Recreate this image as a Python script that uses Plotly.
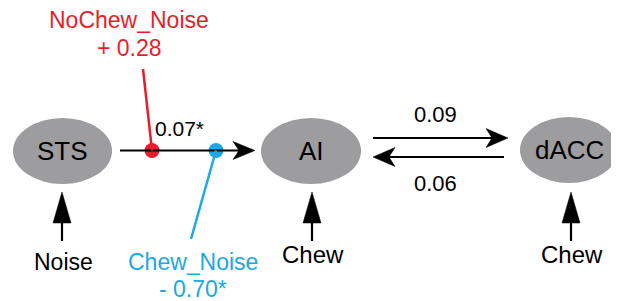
import math
import plotly.graph_objects as go

# ---- data ----
nodes = ["STS", "AI", "dACC"]
path_labels = ["0.07*", "0.09", "0.06"]          # STS->AI, AI->dACC, dACC->AI
modulators = ["NoChew_Noise", "Chew_Noise"]
modulator_values = ["+ 0.28", "- 0.70*"]
inputs = ["Noise", "Chew", "Chew"]

# ---- layout geometry (pixel space of the 619x301 canvas) ----
node_x = [62.5, 311, 569]
node_y = [151, 151, 150]
node_rx = [49.5, 50, 49]
node_ry = [33, 33, 33]

W, H = 619, 301
OFF = 8  # page body margin
FONT = "Liberation Sans, Arial, Helvetica, sans-serif"
GRAY = "#9d9d9f"
RED = "#e61e2b"
BLUE = "#1ca8e6"

fig = go.Figure()
shapes = []
annotations = []


def arrow(x0, y0, x1, y1, L, Wd, notch, color="black", lw=2.2):
    d = math.hypot(x1 - x0, y1 - y0)
    ux, uy = (x1 - x0) / d, (y1 - y0) / d
    px, py = -uy, ux
    bx, by = x1 - (L - notch) * ux, y1 - (L - notch) * uy
    shapes.append(dict(type="line", x0=x0, y0=y0, x1=bx, y1=by,
                       line=dict(color=color, width=lw), layer="above"))
    p1 = (x1 - L * ux + Wd * px, y1 - L * uy + Wd * py)
    p2 = (x1 - L * ux - Wd * px, y1 - L * uy - Wd * py)
    path = f"M{x1},{y1} L{p1[0]},{p1[1]} L{bx},{by} L{p2[0]},{p2[1]} Z"
    shapes.append(dict(type="path", path=path, fillcolor=color,
                       line=dict(color=color, width=0.5), layer="above"))


def text(x, y, s, size, color="black"):
    annotations.append(dict(x=x, y=y, text=s, showarrow=False,
                            font=dict(family=FONT, size=size, color=color),
                            xanchor="center", yanchor="middle", borderpad=0))


# nodes
for name, cx, cy, rx, ry in zip(nodes, node_x, node_y, node_rx, node_ry):
    shapes.append(dict(type="circle", x0=cx - rx, x1=cx + rx, y0=cy - ry, y1=cy + ry,
                       fillcolor=GRAY, line=dict(width=0), layer="below"))
    text(cx, cy, name, 26)

# STS -> AI
arrow(120, 150.5, 255, 150.5, 22, 9, 6)
text(179, 128, path_labels[0], 21)

# AI <-> dACC
arrow(373, 138, 508, 138, 22, 9.5, 6)
text(435, 114, path_labels[1], 22)
arrow(504, 157, 373, 157, 22, 9.5, 6)
text(435, 183, path_labels[2], 22)

# modulator lines and dots
mod_dot_x = [152, 216]
mod_end = [(143, 69), (191, 239)]
mod_colors = [RED, BLUE]
for dx, (ex, ey), c in zip(mod_dot_x, mod_end, mod_colors):
    shapes.append(dict(type="line", x0=dx, y0=150.5, x1=ex, y1=ey,
                       line=dict(color=c, width=2.5), layer="above"))
fig.add_trace(go.Scatter(x=mod_dot_x, y=[150.5, 150.5], mode="markers",
                         marker=dict(size=15, color=mod_colors),
                         hoverinfo="skip", showlegend=False))

text(129, 20, modulators[0], 23, RED)
text(129, 48, modulator_values[0], 23, RED)
text(193, 262, modulators[1], 23, BLUE)
text(193, 289, modulator_values[1], 23, BLUE)

# external inputs
input_x = [62, 312, 571]
input_text_y = [262, 254, 254]
input_sizes = [23, 24, 24]
for lab, ix, ty, fs in zip(inputs, input_x, input_text_y, input_sizes):
    arrow(ix, 241, ix, 192, 31, 9, 0)
    text(ix + 1, ty, lab, fs)

fig.update_layout(
    width=W - OFF, height=H - OFF,
    margin=dict(l=0, r=0, t=0, b=0, pad=0),
    paper_bgcolor="white", plot_bgcolor="white",
    xaxis=dict(range=[OFF, W], visible=False, fixedrange=True),
    yaxis=dict(range=[H, OFF], visible=False, fixedrange=True),
    shapes=shapes, annotations=annotations,
    showlegend=False,
)

fig.write_html("out.html", config={"displayModeBar": False})
